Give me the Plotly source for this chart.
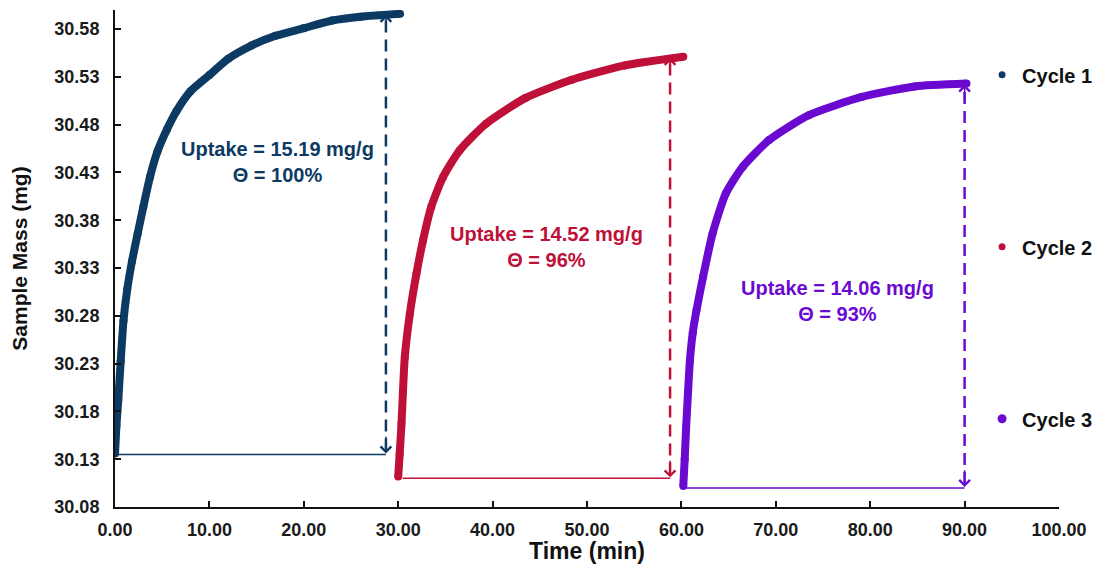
import plotly.graph_objects as go

# ---- data ----
c1_time = [0.0, 0.15, 0.35, 0.6, 0.9, 1.3, 1.8, 2.4, 3.0, 3.7, 4.5, 5.5, 6.5, 8.0, 10.0, 12.0, 14.5, 17.0, 20.0, 23.0, 26.0, 30.2]
c1_mass = [30.136, 30.165, 30.192, 30.232, 30.275, 30.308, 30.337, 30.366, 30.394, 30.425, 30.452, 30.475, 30.494, 30.515, 30.532, 30.549, 30.563, 30.573, 30.581, 30.589, 30.593, 30.596]

c2_time = [30.0, 30.15, 30.35, 30.5, 30.7, 31.23, 31.93, 32.63, 33.5, 34.74, 36.5, 39.3, 43.5, 48.4, 54.0, 60.2]
c2_mass = [30.112, 30.135, 30.167, 30.200, 30.237, 30.282, 30.324, 30.359, 30.394, 30.425, 30.453, 30.481, 30.508, 30.527, 30.542, 30.551]

c3_time = [60.2, 60.35, 60.5, 60.7, 60.9, 61.2, 61.6, 62.3, 63.3, 64.7, 66.5, 69.3, 73.5, 79.1, 84.7, 90.2]
c3_mass = [30.102, 30.130, 30.163, 30.200, 30.233, 30.262, 30.286, 30.321, 30.366, 30.408, 30.436, 30.464, 30.490, 30.509, 30.520, 30.523]

names = ["Cycle 1", "Cycle 2", "Cycle 3"]
colors = ["#0D3A63", "#BE1038", "#6A0AD0"]

# baselines and arrows: (start time, arrow time, base mass, top mass)
base_start = [0.3, 30.5, 60.5]
arrow_time = [28.7, 58.8, 90.0]
base_mass = [30.135, 30.110, 30.100]
top_mass = [30.596, 30.551, 30.523]

labels = ["Uptake = 15.19 mg/g<br>\u0398 = 100%",
          "Uptake = 14.52 mg/g<br>\u0398 = 96%",
          "Uptake = 14.06 mg/g<br>\u0398 = 93%"]
label_x = [17.2, 45.7, 76.5]
label_y = [30.441, 30.352, 30.296]

x_ticks = [0, 10, 20, 30, 40, 50, 60, 70, 80, 90, 100]
y_ticks = [30.08, 30.13, 30.18, 30.23, 30.28, 30.33, 30.38, 30.43, 30.48, 30.53, 30.58]

FONT = "Liberation Sans, Arial, sans-serif"

fig = go.Figure()
series = [(c1_time, c1_mass), (c2_time, c2_mass), (c3_time, c3_mass)]

for i, (t, m) in enumerate(series):
    fig.add_trace(go.Scatter(x=[base_start[i], arrow_time[i]], y=[base_mass[i], base_mass[i]],
                             mode="lines", line=dict(color=colors[i], width=1.5),
                             showlegend=False, hoverinfo="skip"))
    fig.add_trace(go.Scatter(x=[arrow_time[i], arrow_time[i]], y=[base_mass[i] + 0.004, top_mass[i] - 0.004],
                             mode="lines", line=dict(color=colors[i], width=2.5, dash="12px,7px"),
                             showlegend=False, hoverinfo="skip"))
    fig.add_trace(go.Scatter(x=t, y=m, mode="lines+markers",
                             line=dict(color=colors[i], width=8, shape="spline", smoothing=0.6),
                             marker=dict(color=colors[i], size=8),
                             showlegend=False, name=names[i]))

for i in range(3):
    fig.add_trace(go.Scatter(x=[None], y=[None], mode="markers", name=names[i],
                             marker=dict(color=colors[i], size=7 if i < 2 else 9),
                             legendgroup=names[i], showlegend=True))

annotations = []
for i in range(3):
    annotations.append(dict(x=arrow_time[i], y=top_mass[i] - 0.001, ax=arrow_time[i], ay=top_mass[i] - 0.02,
                            xref="x", yref="y", axref="x", ayref="y", text="", showarrow=True,
                            arrowhead=4, arrowsize=1.3, arrowwidth=1.6, arrowcolor=colors[i]))
    annotations.append(dict(x=arrow_time[i], y=base_mass[i] + 0.001, ax=arrow_time[i], ay=base_mass[i] + 0.02,
                            xref="x", yref="y", axref="x", ayref="y", text="", showarrow=True,
                            arrowhead=4, arrowsize=1.3, arrowwidth=1.6, arrowcolor=colors[i]))
    annotations.append(dict(x=label_x[i], y=label_y[i], xref="x", yref="y",
                            text="<b>" + labels[i].replace("<br>", "</b><br><b>") + "</b>",
                            showarrow=False, font=dict(family=FONT, size=20, color=colors[i]), align="center"))

fig.update_layout(
    width=1092, height=556, autosize=False,
    margin=dict(l=107, r=35, t=2, b=57),
    paper_bgcolor="white", plot_bgcolor="white",
    font=dict(family=FONT, color="#1a1a1a"),
    annotations=annotations,
    legend=dict(x=0.9185, y=0.909, xanchor="left", yanchor="top",
                font=dict(family=FONT, size=20, color="#111111", weight="bold"),
                tracegroupgap=143, bgcolor="rgba(0,0,0,0)", itemwidth=30),
    xaxis=dict(range=[0, 100], tickvals=x_ticks, ticktext=[f"{v:.2f}" for v in x_ticks],
               automargin=False,
               showgrid=False, zeroline=False, showline=True, linecolor="#111111", linewidth=2,
               ticks="inside", ticklen=6, tickwidth=1.5, tickcolor="#111111",
               tickfont=dict(family=FONT, size=18, color="#1a1a1a", weight="bold"),
               ticklabelstandoff=5,
               title=dict(text="<b>Time (min)</b>", font=dict(family=FONT, size=23, color="#111111"), standoff=6)),
    yaxis=dict(range=[30.08, 30.60], tickvals=y_ticks, ticktext=[f"{v:.2f}" for v in y_ticks],
               automargin=False,
               showgrid=False, zeroline=False, showline=True, linecolor="#111111", linewidth=2,
               ticks="inside", ticklen=6, tickwidth=1.5, tickcolor="#111111",
               tickfont=dict(family=FONT, size=18, color="#1a1a1a", weight="bold"),
               ticklabelstandoff=10,
               title=dict(text="<b>Sample Mass (mg)</b>", font=dict(family=FONT, size=21, color="#111111"), standoff=22)),
)

fig.write_html("out.html", config={"responsive": False, "displayModeBar": False})
